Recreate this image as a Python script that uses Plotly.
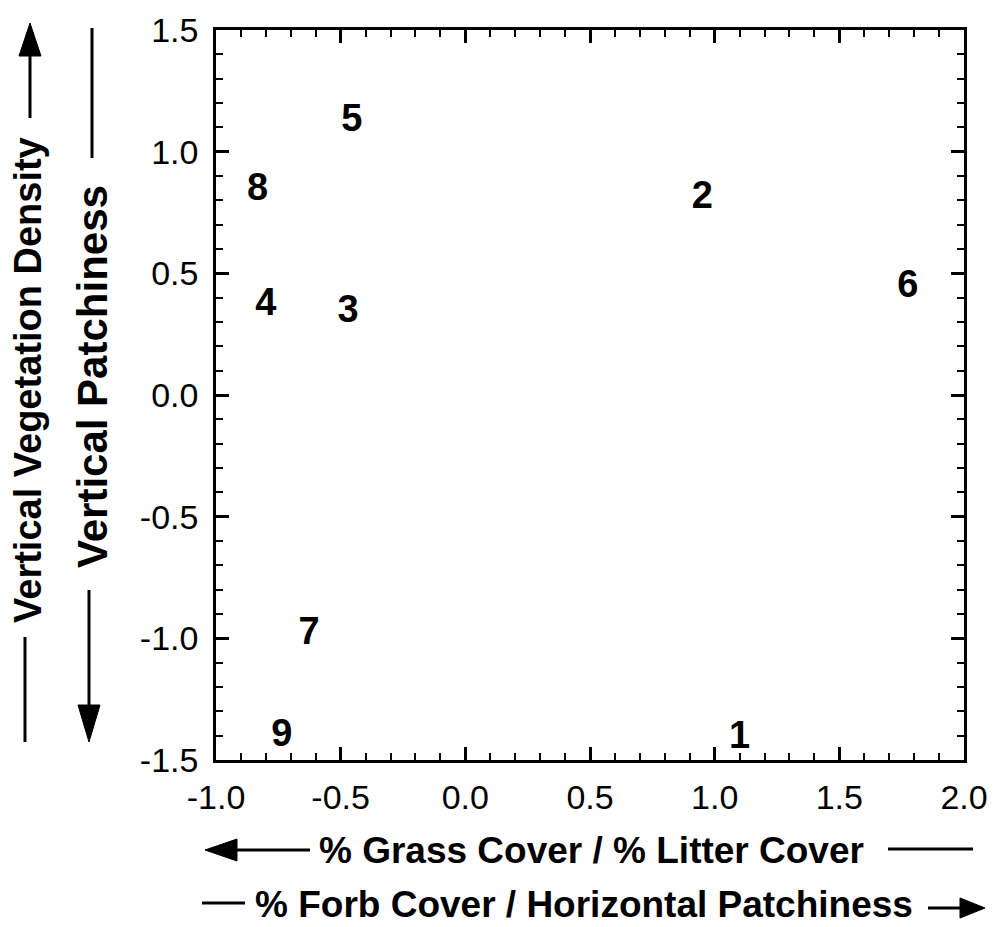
import plotly.graph_objects as go

# ---- data ----
site_labels = ["1", "2", "3", "4", "5", "6", "7", "8", "9"]
x_values = [1.10, 0.95, -0.47, -0.80, -0.455, 1.775, -0.627, -0.833, -0.736]
y_values = [-1.413, 0.808, 0.339, 0.367, 1.125, 0.442, -0.985, 0.841, -1.405]
x_ticks = [-1.0, -0.5, 0.0, 0.5, 1.0, 1.5, 2.0]
y_ticks = [-1.5, -1.0, -0.5, 0.0, 0.5, 1.0, 1.5]
x_title_1 = "% Grass Cover / % Litter Cover"
x_title_2 = "% Forb Cover / Horizontal Patchiness"
y_title_1 = "Vertical Vegetation Density"
y_title_2 = "Vertical Patchiness"

W, H = 997, 927
L, R, T, B = 216, 33, 30, 167
PW, PH = W - L - R, H - T - B


def px(x):
    return (x - L) / PW


def py(y):
    return (H - B - y) / PH


FONT = "Liberation Sans, Arial, Helvetica, sans-serif"

fig = go.Figure()
fig.add_trace(go.Scatter(
    x=x_values, y=y_values, text=site_labels, mode="text",
    textposition="middle center",
    textfont=dict(family=FONT, size=38, color="black", weight="bold"),
    hoverinfo="skip", showlegend=False,
))

axis_common = dict(
    showline=True, linecolor="black", linewidth=2.5, mirror="ticks",
    ticks="inside", ticklen=13, tickwidth=2.5, tickcolor="black",
    showgrid=False, zeroline=False,
    tickfont=dict(family=FONT, size=34, color="black"),
    minor=dict(ticks="inside", ticklen=7, tickwidth=2, tickcolor="black", showgrid=False),
)

fig.update_xaxes(range=[-1.0, 2.0], tickvals=x_ticks,
                 ticktext=[f"{v:.1f}" for v in x_ticks],
                 ticklabelstandoff=5, **axis_common)
fig.update_xaxes(minor_dtick=0.1, minor_tick0=0)
fig.update_yaxes(range=[-1.5, 1.5], tickvals=y_ticks,
                 ticktext=[f"{v:.1f}" for v in y_ticks],
                 ticklabelstandoff=8, **axis_common)
fig.update_yaxes(minor_dtick=0.1, minor_tick0=0)

annotations = [
    dict(text=y_title_1, x=px(28), y=py(380), textangle=-90, size=38),
    dict(text=y_title_2, x=px(92), y=py(377), textangle=-90, size=42),
    dict(text=x_title_1, x=px(591), y=py(850), textangle=0, size=37),
    dict(text=x_title_2, x=px(584), y=py(904), textangle=0, size=37),
]
fig.update_layout(annotations=[
    dict(text=a["text"], x=a["x"], y=a["y"], textangle=a["textangle"],
         xref="paper", yref="paper", showarrow=False, xanchor="center",
         yanchor="middle",
         font=dict(family=FONT, size=a["size"], color="black", weight="bold"))
    for a in annotations
])

LW = 3
shapes = []


def hline(x0, x1, y):
    shapes.append(dict(type="line", xref="paper", yref="paper",
                       x0=px(x0), x1=px(x1), y0=py(y), y1=py(y),
                       line=dict(color="black", width=LW)))


def vline(x, y0, y1):
    shapes.append(dict(type="line", xref="paper", yref="paper",
                       x0=px(x), x1=px(x), y0=py(y0), y1=py(y1),
                       line=dict(color="black", width=LW)))


def tri(points):
    path = "M " + " L ".join(f"{px(a)},{py(b)}" for a, b in points) + " Z"
    shapes.append(dict(type="path", xref="paper", yref="paper", path=path,
                       fillcolor="black", line=dict(color="black", width=1)))


# y title 1: line below, arrow up above
vline(25, 637, 742)
vline(30, 50, 118)
tri([(30, 23), (19, 56), (41, 56)])
# y title 2: line above, arrow down below
vline(92, 28, 158)
vline(89, 590, 712)
tri([(89, 742), (78, 705), (100, 705)])
# x title 1: arrow left, line right
hline(230, 310, 850)
tri([(205, 850), (237, 839), (237, 861)])
hline(888, 973, 849)
# x title 2: line left, arrow right
hline(202, 245, 903)
hline(928, 965, 908)
tri([(985, 908), (960, 898), (960, 918)])

fig.update_layout(
    shapes=shapes,
    width=W, height=H,
    margin=dict(l=L, r=R, t=T, b=B, autoexpand=False),
    paper_bgcolor="white", plot_bgcolor="white",
    showlegend=False,
)

fig.write_html(
    "out.html",
    config={"displayModeBar": False},
    post_script="document.body.style.margin='0';document.body.style.padding='0';",
)
